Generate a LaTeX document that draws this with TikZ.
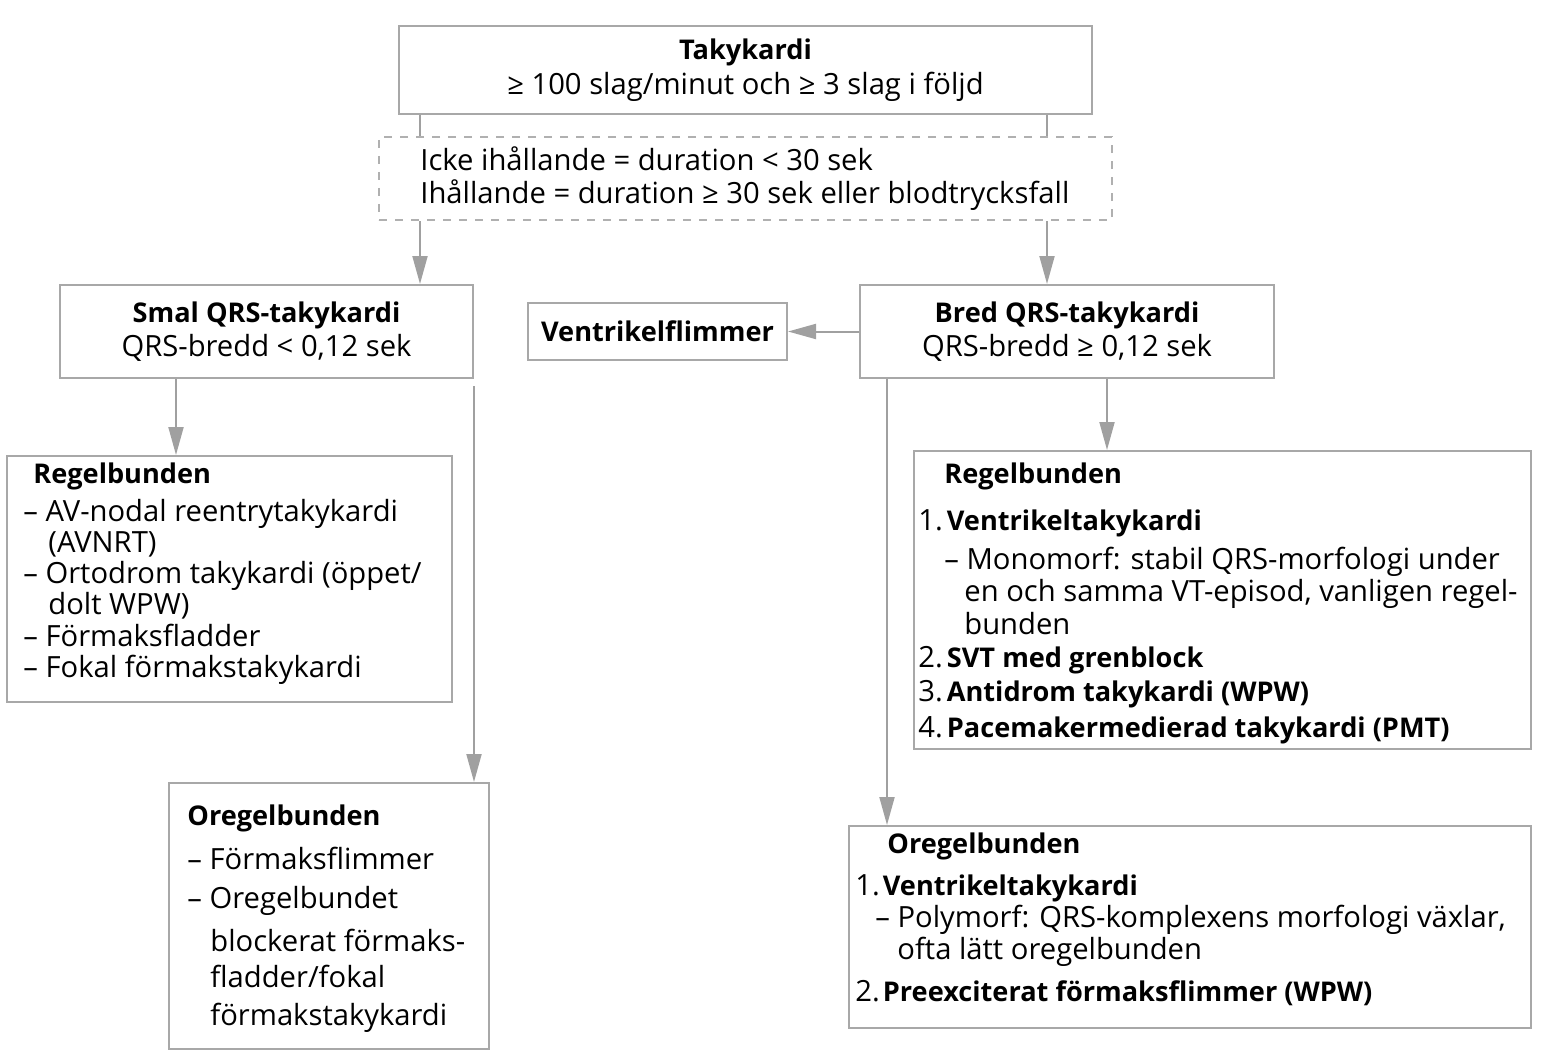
\documentclass[tikz,border=0pt]{standalone}
\usepackage{fontspec}
\setmainfont{Open Sans}[BoldFeatures={Scale=0.93}]
\usepackage{xcolor}
\usepackage{tikz}
\usetikzlibrary{arrows.meta, positioning}
\definecolor{boxgray}{HTML}{A8A8A8}
\definecolor{notegray}{HTML}{B0B0B0}
\definecolor{linegray}{HTML}{A0A0A0}

\begin{document}
\begin{tikzpicture}[x=0.5pt, y=-0.5pt,
    box/.style={rectangle, draw=boxgray, line width=1pt, inner sep=0pt, align=center},
    listtext/.style={anchor=north west, inner sep=0pt, align=left},
    conn/.style={draw=linegray, line width=1pt},
    arr/.style={conn, -{Triangle[width=7.5pt, length=14pt]}, fill=linegray}]
    \useasboundingbox (0,0) rectangle (1567,1054);

    % Top box and duration note
    \node[box, minimum width=346.5pt, minimum height=44pt, font=\fontsize{14.6}{17.5}\selectfont] (takykardi) at (745.5,70) {\textbf{Takykardi}\\≥ 100 slag/minut och ≥ 3 slag i följd};
    \node[box, draw=notegray, dash pattern=on 4pt off 4pt, minimum width=366.5pt, minimum height=41.5pt] (duration) at (745.5,178.5) {};
    \node[listtext, font=\fontsize{14.6}{16.5}\selectfont] (duration_txt) at (420,146) {Icke ihållande = duration < 30 sek\\Ihållande = duration ≥ 30 sek eller blodtrycksfall};

    % Narrow and wide QRS
    \node[box, minimum width=206.5pt, minimum height=46.5pt, font=\fontsize{14.6}{17}\selectfont] (smal) at (266.5,331.5) {\textbf{Smal QRS-takykardi}\\QRS-bredd < 0,12 sek};
    \node[box, minimum width=207pt, minimum height=46.5pt, font=\fontsize{14.6}{17}\selectfont] (bred) at (1067,331.5) {\textbf{Bred QRS-takykardi}\\QRS-bredd ≥ 0,12 sek};
    \node[box, minimum width=129.5pt, minimum height=28.5pt, font=\fontsize{14.6}{17}\selectfont\bfseries] (vflimmer) at (657.5,331.5) {Ventrikelflimmer};

    % Result boxes
    \node[box, anchor=north west, minimum width=222.5pt, minimum height=123pt] (smal_reg) at (6,455) {};
    \node[box, anchor=north west, minimum width=160pt, minimum height=133pt] (smal_oreg) at (168,782) {};
    \node[box, anchor=north west, minimum width=308.5pt, minimum height=149pt] (bred_reg) at (913,450) {};
    \node[box, anchor=north west, minimum width=341pt, minimum height=101pt] (bred_oreg) at (848,825) {};

    % Texts of the result boxes
    \node[listtext, font=\fontsize{14.6}{15.6}\selectfont] (smal_reg_txt) at (23,462) {\hspace*{5pt}\textbf{Regelbunden}\\[3.5pt]
      – AV-nodal reentrytakykardi\\\hspace*{12.5pt}(AVNRT)\\– Ortodrom takykardi (öppet/\\\hspace*{12.5pt}dolt WPW)\\– Förmaksfladder\\– Fokal förmakstakykardi};
    \node[listtext, font=\fontsize{14.6}{19}\selectfont] (smal_oreg_txt) at (187,804) {\textbf{Oregelbunden}\\[3pt]
      – Förmaksflimmer\\[0.5pt]– Oregelbundet\\[2.5pt]\hspace*{11.5pt}blockerat förmaks-\\[-1pt]\hspace*{11.5pt}fladder/fokal\\\hspace*{11.5pt}förmakstakykardi};
    \node[listtext, font=\fontsize{14.6}{16.5}\selectfont] (bred_reg_txt) at (918,462) {\hspace*{13pt}\textbf{Regelbunden}\\[7pt]
      1.\hspace{2pt}\textbf{Ventrikeltakykardi}\\[3pt]\hspace*{13pt}– Monomorf: stabil QRS-morfologi under\\[-0.5pt]\hspace*{23pt}en och samma VT-episod, vanligen regel-\\\hspace*{23pt}bunden\\
      2.\hspace{2pt}\textbf{SVT med grenblock}\\[0.5pt]3.\hspace{2pt}\textbf{Antidrom takykardi (WPW)}\\[1.5pt]4.\hspace{2pt}\textbf{Pacemakermedierad takykardi (PMT)}};
    \node[listtext, font=\fontsize{14.6}{16}\selectfont] (bred_oreg_txt) at (855,832) {\hspace*{16pt}\textbf{Oregelbunden}\\[5pt]
      1.\hspace{1.5pt}\textbf{Ventrikeltakykardi}\\\hspace*{10pt}– Polymorf: QRS-komplexens morfologi växlar,\\\hspace*{21pt}ofta lätt oregelbunden\\[5pt]
      2.\hspace{1.5pt}\textbf{Preexciterat förmaksflimmer (WPW)}};

    % Connectors
    \coordinate (tap_l) at (420,0);
    \coordinate (tap_r) at (1047,0);
    \coordinate (smal_tap) at (176,0);
    \coordinate (bred_tap_reg) at (1107,0);
    \coordinate (bred_tap_oreg) at (887,0);
    \draw[conn] (takykardi.south -| tap_l) -- (duration.north -| tap_l);
    \draw[conn] (takykardi.south -| tap_r) -- (duration.north -| tap_r);
    \draw[arr] (duration.south -| tap_l) -- (smal.north -| tap_l);
    \draw[arr] (duration.south -| tap_r) -- (bred.north -| tap_r);
    \draw[arr] (bred.west) -- (vflimmer.east);
    \draw[arr] (smal.south -| smal_tap) -- (smal_reg.north -| smal_tap);
    \draw[arr] ([yshift=-3.5pt]smal.south east) -- (smal_oreg.north -| smal.south east);
    \draw[arr] (bred.south -| bred_tap_reg) -- (bred_reg.north -| bred_tap_reg);
    \draw[arr] (bred.south -| bred_tap_oreg) -- (bred_oreg.north -| bred_tap_oreg);
\end{tikzpicture}
\end{document}
